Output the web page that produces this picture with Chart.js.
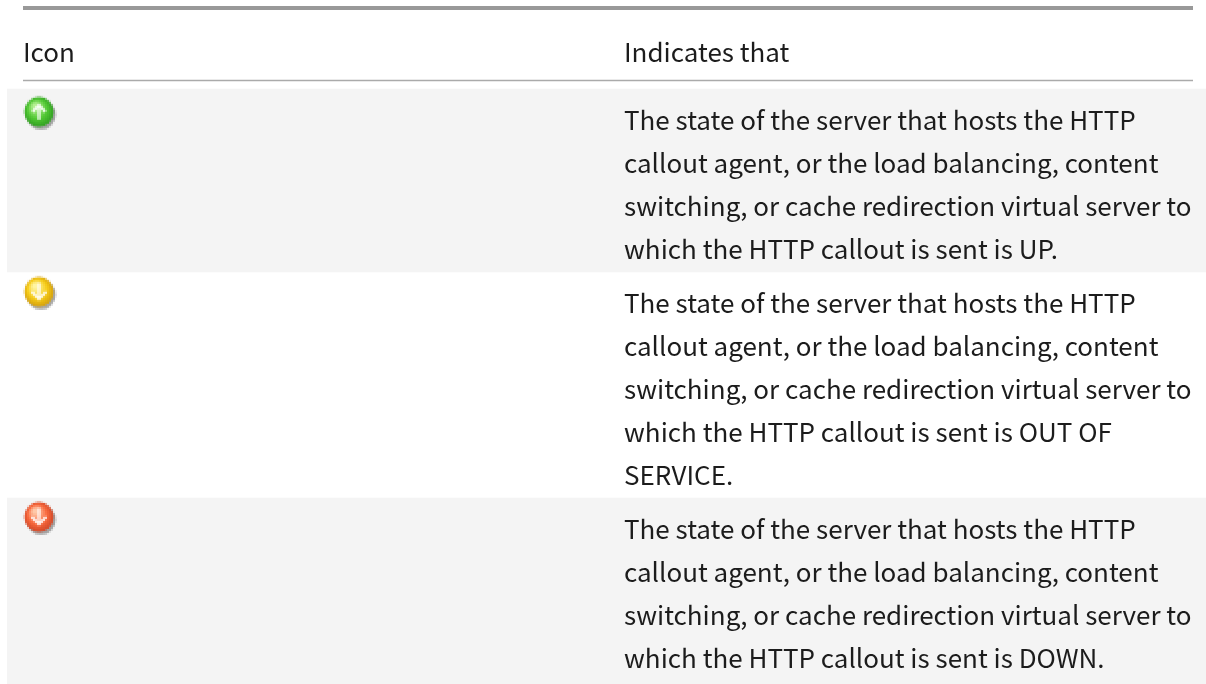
<!DOCTYPE html>
<html>
<head>
<meta charset="utf-8">
<style>
html, body { margin: 0; padding: 0; background: #fff; }
#wrap { width: 1206px; height: 684px; }
</style>
<script src="https://cdn.jsdelivr.net/npm/chart.js@4"></script>
</head>
<body>
<div id="wrap"><canvas id="chart"></canvas></div>
<script>
const headers = ['Icon', 'Indicates that'];
const iconKinds = ['up', 'outOfService', 'down'];
const rowLines = [
  ['The state of the server that hosts the HTTP', 'callout agent, or the load balancing, content', 'switching, or cache redirection virtual server to', 'which the HTTP callout is sent is UP.'],
  ['The state of the server that hosts the HTTP', 'callout agent, or the load balancing, content', 'switching, or cache redirection virtual server to', 'which the HTTP callout is sent is OUT OF', 'SERVICE.'],
  ['The state of the server that hosts the HTTP', 'callout agent, or the load balancing, content', 'switching, or cache redirection virtual server to', 'which the HTTP callout is sent is DOWN.']
];

// layout: the y axis counts text lines, one line is 43px
const LINE_PX = 43;
const ROW_PAD = 11 / LINE_PX;
const HEAD_TOP = -89 / LINE_PX;
const Y_MAX = (684 - 89) / LINE_PX;
const LEFT_X = 23, TEXT_X = 624, RIGHT_X = 1193;

// cumulative row edges in line units
const rowEdges = [0];
rowLines.forEach(r => rowEdges.push(rowEdges[rowEdges.length - 1] + r.length + ROW_PAD));

function makeIcon(kind) {
  const colors = {
    up: ['#b4f090', '#52c834', '#2c9a1e'],
    outOfService: ['#fff4a0', '#f6cc18', '#d09a0c'],
    down: ['#ffc8a8', '#f8683c', '#cc4426']
  }[kind];
  const small = document.createElement('canvas');
  small.width = small.height = 18;
  const s = small.getContext('2d');
  s.fillStyle = 'rgba(80,80,80,.5)';
  s.beginPath(); s.arc(10, 10.4, 7.4, 0, Math.PI * 2); s.fill();
  const g = s.createRadialGradient(7, 6, 1, 9, 9, 8);
  g.addColorStop(0, colors[0]);
  g.addColorStop(.55, colors[1]);
  g.addColorStop(1, colors[2]);
  s.fillStyle = g;
  s.beginPath(); s.arc(9, 9, 7.4, 0, Math.PI * 2); s.fill();
  s.strokeStyle = 'rgba(255,255,255,.9)';
  s.lineWidth = 1.3;
  s.beginPath();
  if (kind === 'up') {
    s.moveTo(9, 13); s.lineTo(9, 6); s.moveTo(5.8, 9); s.lineTo(9, 5.6); s.lineTo(12.2, 9);
  } else {
    s.moveTo(9, 4.5); s.lineTo(9, 12); s.moveTo(5.4, 9); s.lineTo(9, 12.6); s.lineTo(12.6, 9);
  }
  s.stroke();
  const big = document.createElement('canvas');
  big.width = big.height = 36;
  const b = big.getContext('2d');
  b.imageSmoothingEnabled = false;
  b.drawImage(small, 0, 0, 36, 36);
  return big;
}

// icons sit near the top of each row
const iconY = rowEdges.slice(0, 3).map((e, i) => e + [0.53, 0.46, 0.44][i]);

const tablePlugin = {
  id: 'tableText',
  afterDatasetsDraw(chart) {
    const { ctx, scales } = chart;
    const y = scales.y, x = scales.xPos;
    ctx.save();
    ctx.font = '26px "Noto Sans CJK SC"';
    ctx.fillStyle = '#1c1c1c';
    ctx.textBaseline = 'middle';
    ctx.fillText(headers[0], x.getPixelForValue(LEFT_X), 52);
    ctx.fillText(headers[1], x.getPixelForValue(TEXT_X), 52);
    rowLines.forEach((lines, r) => {
      lines.forEach((line, i) => {
        const py = y.getPixelForValue(rowEdges[r] + i + 0.72);
        ctx.fillText(line, x.getPixelForValue(TEXT_X), py);
      });
    });
    ctx.restore();
  }
};

new Chart(document.getElementById('chart'), {
  data: {
    labels: ['rows'],
    datasets: [
      { type: 'bar', order: 3, xAxisID: 'x', yAxisID: 'y', data: [[rowEdges[0], rowEdges[1]]], backgroundColor: '#f4f4f4', barPercentage: 1, categoryPercentage: 1, grouped: false },
      { type: 'bar', order: 3, xAxisID: 'x', yAxisID: 'y', data: [[rowEdges[2], Y_MAX]], backgroundColor: '#f4f4f4', barPercentage: 1, categoryPercentage: 1, grouped: false },
      { type: 'line', order: 2, xAxisID: 'xPos', yAxisID: 'y', data: [{ x: LEFT_X, y: HEAD_TOP + 8 / LINE_PX }, { x: RIGHT_X, y: HEAD_TOP + 8 / LINE_PX }], borderColor: '#999999', borderWidth: 4, pointRadius: 0 },
      { type: 'line', order: 2, xAxisID: 'xPos', yAxisID: 'y', data: [{ x: LEFT_X, y: -8.5 / LINE_PX }, { x: RIGHT_X, y: -8.5 / LINE_PX }], borderColor: '#aaaaaa', borderWidth: 1.5, pointRadius: 0 },
      { type: 'scatter', order: 1, xAxisID: 'xPos', yAxisID: 'y', data: iconKinds.map((k, i) => ({ x: 39, y: iconY[i] })), pointStyle: iconKinds.map(makeIcon), pointRadius: 18 }
    ]
  },
  options: {
    responsive: true,
    maintainAspectRatio: false,
    animation: false,
    layout: { autoPadding: false, padding: { left: 7, right: 0, top: 0, bottom: 0 } },
    plugins: { legend: { display: false }, tooltip: { enabled: false } },
    scales: {
      x: { type: 'category', display: false, grid: { display: false } },
      xPos: { type: 'linear', display: false, min: 7, max: 1206 },
      y: { type: 'linear', display: false, reverse: true, min: HEAD_TOP, max: Y_MAX }
    }
  },
  plugins: [tablePlugin]
});
</script>
</body>
</html>
